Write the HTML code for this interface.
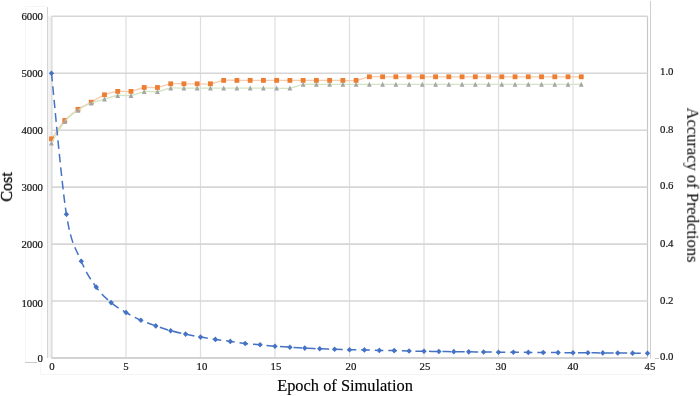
<!DOCTYPE html>
<html><head><meta charset="utf-8"><style>
html,body{margin:0;padding:0;background:#fff;}
body{width:700px;height:396px;overflow:hidden;font-family:"Liberation Serif",serif;}
svg{display:block;position:absolute;left:0;top:0;}
.t{position:absolute;line-height:1;white-space:nowrap;font-family:"Liberation Serif",serif;will-change:transform;}
.k{-webkit-text-stroke:0.2px currentColor;}
#w{position:absolute;left:0;top:0;width:700px;height:396px;background:#fff;filter:blur(0.35px);}
</style></head><body><div id="w">
<svg width="700" height="396" viewBox="0 0 700 396">
<rect width="700" height="396" fill="#fff"/>
<g stroke="#f5f5f5" stroke-width="1" fill="none">
<path d="M25.5,6.5 H47"/>
<path d="M25.5,6.5 V362"/>
<path d="M41.5,20 V362"/>
<path d="M40.5,362 V374.5 H654.5 V359"/>
</g>
<rect x="48" y="16.3" width="2.5" height="341.4" fill="#f3f3f3"/>
<rect x="50.5" y="16.3" width="2.5" height="341.4" fill="#ebebeb"/>
<line x1="51.50" y1="16.30" x2="51.50" y2="358.00" stroke="#dedede" stroke-width="1.2"/>
<line x1="126.00" y1="16.30" x2="126.00" y2="358.00" stroke="#dedede" stroke-width="1.2"/>
<line x1="200.50" y1="16.30" x2="200.50" y2="358.00" stroke="#dedede" stroke-width="1.2"/>
<line x1="275.00" y1="16.30" x2="275.00" y2="358.00" stroke="#dedede" stroke-width="1.2"/>
<line x1="349.50" y1="16.30" x2="349.50" y2="358.00" stroke="#dedede" stroke-width="1.2"/>
<line x1="424.00" y1="16.30" x2="424.00" y2="358.00" stroke="#dedede" stroke-width="1.2"/>
<line x1="498.50" y1="16.30" x2="498.50" y2="358.00" stroke="#dedede" stroke-width="1.2"/>
<line x1="573.00" y1="16.30" x2="573.00" y2="358.00" stroke="#dedede" stroke-width="1.2"/>
<line x1="647.50" y1="16.30" x2="647.50" y2="358.00" stroke="#c8c8c8" stroke-width="1.2"/>
<line x1="51.50" y1="16.30" x2="647.50" y2="16.30" stroke="#d6d6d6" stroke-width="1.6"/>
<line x1="51.50" y1="73.25" x2="647.50" y2="73.25" stroke="#d6d6d6" stroke-width="1.6"/>
<line x1="51.50" y1="130.20" x2="647.50" y2="130.20" stroke="#d6d6d6" stroke-width="1.6"/>
<line x1="51.50" y1="187.15" x2="647.50" y2="187.15" stroke="#d6d6d6" stroke-width="1.6"/>
<line x1="51.50" y1="244.10" x2="647.50" y2="244.10" stroke="#d6d6d6" stroke-width="1.6"/>
<line x1="51.50" y1="301.05" x2="647.50" y2="301.05" stroke="#d6d6d6" stroke-width="1.6"/>
<line x1="51.50" y1="358.00" x2="647.50" y2="358.00" stroke="#d6d6d6" stroke-width="1.6"/>
<line x1="47.5" y1="7" x2="47.5" y2="358" stroke="#d4d4d4" stroke-width="1"/>
<line x1="650.5" y1="1" x2="650.5" y2="358.5" stroke="#cfcfcf" stroke-width="1"/>
<line x1="25" y1="362.5" x2="37" y2="362.5" stroke="#c8c8c8" stroke-width="1"/>
<line x1="655" y1="358.5" x2="659" y2="358.5" stroke="#c8c8c8" stroke-width="1"/>
<line x1="51.50" y1="358.00" x2="647.50" y2="358.00" stroke="#cfcfcf" stroke-width="1.6"/>
<path d="M51.50,138.80 C53.71,135.75 60.33,125.42 64.74,120.50 C69.16,115.58 73.57,112.35 77.99,109.30 C82.40,106.25 86.82,104.62 91.23,102.20 C95.65,99.78 100.06,96.60 104.48,94.80 C108.89,93.00 113.31,91.97 117.72,91.40 C122.14,90.83 126.55,92.05 130.97,91.40 C135.38,90.75 139.80,88.15 144.21,87.50 C148.63,86.85 153.04,88.12 157.46,87.50 C161.87,86.88 166.29,84.42 170.70,83.80 C175.11,83.18 179.53,83.80 183.94,83.80 C188.36,83.80 192.77,83.80 197.19,83.80 C201.60,83.80 206.02,84.37 210.43,83.80 C214.85,83.23 219.26,80.97 223.68,80.40 C228.09,79.83 232.51,80.40 236.92,80.40 C241.34,80.40 245.75,80.40 250.17,80.40 C254.58,80.40 259.00,80.40 263.41,80.40 C267.83,80.40 272.24,80.40 276.66,80.40 C281.07,80.40 285.49,80.40 289.90,80.40 C294.31,80.40 298.73,80.40 303.14,80.40 C307.56,80.40 311.97,80.40 316.39,80.40 C320.80,80.40 325.22,80.40 329.63,80.40 C334.05,80.40 338.46,80.40 342.88,80.40 C347.29,80.40 351.71,81.00 356.12,80.40 C360.54,79.80 364.95,77.40 369.37,76.80 C373.78,76.20 378.20,76.80 382.61,76.80 C387.03,76.80 391.44,76.80 395.86,76.80 C400.27,76.80 404.69,76.80 409.10,76.80 C413.51,76.80 417.93,76.80 422.34,76.80 C426.76,76.80 431.17,76.80 435.59,76.80 C440.00,76.80 444.42,76.80 448.83,76.80 C453.25,76.80 457.66,76.80 462.08,76.80 C466.49,76.80 470.91,76.80 475.32,76.80 C479.74,76.80 484.15,76.80 488.57,76.80 C492.98,76.80 497.40,76.80 501.81,76.80 C506.23,76.80 510.64,76.80 515.06,76.80 C519.47,76.80 523.89,76.80 528.30,76.80 C532.71,76.80 537.13,76.80 541.54,76.80 C545.96,76.80 550.37,76.80 554.79,76.80 C559.20,76.80 563.62,76.80 568.03,76.80 C572.45,76.80 579.07,76.80 581.28,76.80" fill="none" stroke="#f8cbad" stroke-width="1.3"/>
<rect x="49.10" y="136.40" width="4.8" height="4.8" fill="#ed7d31"/>
<rect x="62.34" y="118.10" width="4.8" height="4.8" fill="#ed7d31"/>
<rect x="75.59" y="106.90" width="4.8" height="4.8" fill="#ed7d31"/>
<rect x="88.83" y="99.80" width="4.8" height="4.8" fill="#ed7d31"/>
<rect x="102.08" y="92.40" width="4.8" height="4.8" fill="#ed7d31"/>
<rect x="115.32" y="89.00" width="4.8" height="4.8" fill="#ed7d31"/>
<rect x="128.57" y="89.00" width="4.8" height="4.8" fill="#ed7d31"/>
<rect x="141.81" y="85.10" width="4.8" height="4.8" fill="#ed7d31"/>
<rect x="155.06" y="85.10" width="4.8" height="4.8" fill="#ed7d31"/>
<rect x="168.30" y="81.40" width="4.8" height="4.8" fill="#ed7d31"/>
<rect x="181.54" y="81.40" width="4.8" height="4.8" fill="#ed7d31"/>
<rect x="194.79" y="81.40" width="4.8" height="4.8" fill="#ed7d31"/>
<rect x="208.03" y="81.40" width="4.8" height="4.8" fill="#ed7d31"/>
<rect x="221.28" y="78.00" width="4.8" height="4.8" fill="#ed7d31"/>
<rect x="234.52" y="78.00" width="4.8" height="4.8" fill="#ed7d31"/>
<rect x="247.77" y="78.00" width="4.8" height="4.8" fill="#ed7d31"/>
<rect x="261.01" y="78.00" width="4.8" height="4.8" fill="#ed7d31"/>
<rect x="274.26" y="78.00" width="4.8" height="4.8" fill="#ed7d31"/>
<rect x="287.50" y="78.00" width="4.8" height="4.8" fill="#ed7d31"/>
<rect x="300.74" y="78.00" width="4.8" height="4.8" fill="#ed7d31"/>
<rect x="313.99" y="78.00" width="4.8" height="4.8" fill="#ed7d31"/>
<rect x="327.23" y="78.00" width="4.8" height="4.8" fill="#ed7d31"/>
<rect x="340.48" y="78.00" width="4.8" height="4.8" fill="#ed7d31"/>
<rect x="353.72" y="78.00" width="4.8" height="4.8" fill="#ed7d31"/>
<rect x="366.97" y="74.40" width="4.8" height="4.8" fill="#ed7d31"/>
<rect x="380.21" y="74.40" width="4.8" height="4.8" fill="#ed7d31"/>
<rect x="393.46" y="74.40" width="4.8" height="4.8" fill="#ed7d31"/>
<rect x="406.70" y="74.40" width="4.8" height="4.8" fill="#ed7d31"/>
<rect x="419.94" y="74.40" width="4.8" height="4.8" fill="#ed7d31"/>
<rect x="433.19" y="74.40" width="4.8" height="4.8" fill="#ed7d31"/>
<rect x="446.43" y="74.40" width="4.8" height="4.8" fill="#ed7d31"/>
<rect x="459.68" y="74.40" width="4.8" height="4.8" fill="#ed7d31"/>
<rect x="472.92" y="74.40" width="4.8" height="4.8" fill="#ed7d31"/>
<rect x="486.17" y="74.40" width="4.8" height="4.8" fill="#ed7d31"/>
<rect x="499.41" y="74.40" width="4.8" height="4.8" fill="#ed7d31"/>
<rect x="512.66" y="74.40" width="4.8" height="4.8" fill="#ed7d31"/>
<rect x="525.90" y="74.40" width="4.8" height="4.8" fill="#ed7d31"/>
<rect x="539.14" y="74.40" width="4.8" height="4.8" fill="#ed7d31"/>
<rect x="552.39" y="74.40" width="4.8" height="4.8" fill="#ed7d31"/>
<rect x="565.63" y="74.40" width="4.8" height="4.8" fill="#ed7d31"/>
<rect x="578.88" y="74.40" width="4.8" height="4.8" fill="#ed7d31"/>
<path d="M51.50,143.00 C53.71,139.42 60.33,126.95 64.74,121.50 C69.16,116.05 73.57,113.38 77.99,110.30 C82.40,107.22 86.82,104.85 91.23,103.00 C95.65,101.15 100.06,100.45 104.48,99.20 C108.89,97.95 113.31,96.12 117.72,95.50 C122.14,94.88 126.55,96.15 130.97,95.50 C135.38,94.85 139.80,92.25 144.21,91.60 C148.63,90.95 153.04,92.17 157.46,91.60 C161.87,91.03 166.29,88.77 170.70,88.20 C175.11,87.63 179.53,88.20 183.94,88.20 C188.36,88.20 192.77,88.20 197.19,88.20 C201.60,88.20 206.02,88.20 210.43,88.20 C214.85,88.20 219.26,88.20 223.68,88.20 C228.09,88.20 232.51,88.20 236.92,88.20 C241.34,88.20 245.75,88.20 250.17,88.20 C254.58,88.20 259.00,88.20 263.41,88.20 C267.83,88.20 272.24,88.20 276.66,88.20 C281.07,88.20 285.49,88.83 289.90,88.20 C294.31,87.57 298.73,85.03 303.14,84.40 C307.56,83.77 311.97,84.40 316.39,84.40 C320.80,84.40 325.22,84.40 329.63,84.40 C334.05,84.40 338.46,84.40 342.88,84.40 C347.29,84.40 351.71,84.40 356.12,84.40 C360.54,84.40 364.95,84.40 369.37,84.40 C373.78,84.40 378.20,84.40 382.61,84.40 C387.03,84.40 391.44,84.40 395.86,84.40 C400.27,84.40 404.69,84.40 409.10,84.40 C413.51,84.40 417.93,84.40 422.34,84.40 C426.76,84.40 431.17,84.40 435.59,84.40 C440.00,84.40 444.42,84.40 448.83,84.40 C453.25,84.40 457.66,84.40 462.08,84.40 C466.49,84.40 470.91,84.40 475.32,84.40 C479.74,84.40 484.15,84.40 488.57,84.40 C492.98,84.40 497.40,84.40 501.81,84.40 C506.23,84.40 510.64,84.40 515.06,84.40 C519.47,84.40 523.89,84.40 528.30,84.40 C532.71,84.40 537.13,84.40 541.54,84.40 C545.96,84.40 550.37,84.40 554.79,84.40 C559.20,84.40 563.62,84.40 568.03,84.40 C572.45,84.40 579.07,84.40 581.28,84.40" fill="none" stroke="#d0e5c2" stroke-width="1.3"/>
<path d="M51.50,140.40 L53.90,145.40 L49.10,145.40 Z" fill="#a5a5a5"/>
<path d="M64.74,118.90 L67.14,123.90 L62.34,123.90 Z" fill="#a5a5a5"/>
<path d="M77.99,107.70 L80.39,112.70 L75.59,112.70 Z" fill="#a5a5a5"/>
<path d="M91.23,100.40 L93.63,105.40 L88.83,105.40 Z" fill="#a5a5a5"/>
<path d="M104.48,96.60 L106.88,101.60 L102.08,101.60 Z" fill="#a5a5a5"/>
<path d="M117.72,92.90 L120.12,97.90 L115.32,97.90 Z" fill="#a5a5a5"/>
<path d="M130.97,92.90 L133.37,97.90 L128.57,97.90 Z" fill="#a5a5a5"/>
<path d="M144.21,89.00 L146.61,94.00 L141.81,94.00 Z" fill="#a5a5a5"/>
<path d="M157.46,89.00 L159.86,94.00 L155.06,94.00 Z" fill="#a5a5a5"/>
<path d="M170.70,85.60 L173.10,90.60 L168.30,90.60 Z" fill="#a5a5a5"/>
<path d="M183.94,85.60 L186.34,90.60 L181.54,90.60 Z" fill="#a5a5a5"/>
<path d="M197.19,85.60 L199.59,90.60 L194.79,90.60 Z" fill="#a5a5a5"/>
<path d="M210.43,85.60 L212.83,90.60 L208.03,90.60 Z" fill="#a5a5a5"/>
<path d="M223.68,85.60 L226.08,90.60 L221.28,90.60 Z" fill="#a5a5a5"/>
<path d="M236.92,85.60 L239.32,90.60 L234.52,90.60 Z" fill="#a5a5a5"/>
<path d="M250.17,85.60 L252.57,90.60 L247.77,90.60 Z" fill="#a5a5a5"/>
<path d="M263.41,85.60 L265.81,90.60 L261.01,90.60 Z" fill="#a5a5a5"/>
<path d="M276.66,85.60 L279.06,90.60 L274.26,90.60 Z" fill="#a5a5a5"/>
<path d="M289.90,85.60 L292.30,90.60 L287.50,90.60 Z" fill="#a5a5a5"/>
<path d="M303.14,81.80 L305.54,86.80 L300.74,86.80 Z" fill="#a5a5a5"/>
<path d="M316.39,81.80 L318.79,86.80 L313.99,86.80 Z" fill="#a5a5a5"/>
<path d="M329.63,81.80 L332.03,86.80 L327.23,86.80 Z" fill="#a5a5a5"/>
<path d="M342.88,81.80 L345.28,86.80 L340.48,86.80 Z" fill="#a5a5a5"/>
<path d="M356.12,81.80 L358.52,86.80 L353.72,86.80 Z" fill="#a5a5a5"/>
<path d="M369.37,81.80 L371.77,86.80 L366.97,86.80 Z" fill="#a5a5a5"/>
<path d="M382.61,81.80 L385.01,86.80 L380.21,86.80 Z" fill="#a5a5a5"/>
<path d="M395.86,81.80 L398.26,86.80 L393.46,86.80 Z" fill="#a5a5a5"/>
<path d="M409.10,81.80 L411.50,86.80 L406.70,86.80 Z" fill="#a5a5a5"/>
<path d="M422.34,81.80 L424.74,86.80 L419.94,86.80 Z" fill="#a5a5a5"/>
<path d="M435.59,81.80 L437.99,86.80 L433.19,86.80 Z" fill="#a5a5a5"/>
<path d="M448.83,81.80 L451.23,86.80 L446.43,86.80 Z" fill="#a5a5a5"/>
<path d="M462.08,81.80 L464.48,86.80 L459.68,86.80 Z" fill="#a5a5a5"/>
<path d="M475.32,81.80 L477.72,86.80 L472.92,86.80 Z" fill="#a5a5a5"/>
<path d="M488.57,81.80 L490.97,86.80 L486.17,86.80 Z" fill="#a5a5a5"/>
<path d="M501.81,81.80 L504.21,86.80 L499.41,86.80 Z" fill="#a5a5a5"/>
<path d="M515.06,81.80 L517.46,86.80 L512.66,86.80 Z" fill="#a5a5a5"/>
<path d="M528.30,81.80 L530.70,86.80 L525.90,86.80 Z" fill="#a5a5a5"/>
<path d="M541.54,81.80 L543.94,86.80 L539.14,86.80 Z" fill="#a5a5a5"/>
<path d="M554.79,81.80 L557.19,86.80 L552.39,86.80 Z" fill="#a5a5a5"/>
<path d="M568.03,81.80 L570.43,86.80 L565.63,86.80 Z" fill="#a5a5a5"/>
<path d="M581.28,81.80 L583.68,86.80 L578.88,86.80 Z" fill="#a5a5a5"/>
<path d="M51.50,73.20 C53.98,96.72 61.43,182.97 66.40,214.30 C71.37,245.63 76.33,249.07 81.30,261.20 C86.27,273.33 91.23,280.20 96.20,287.10 C101.17,294.00 106.13,298.37 111.10,302.60 C116.07,306.83 121.03,309.57 126.00,312.50 C130.97,315.43 135.93,317.97 140.90,320.20 C145.87,322.43 150.83,324.15 155.80,325.90 C160.77,327.65 165.73,329.33 170.70,330.70 C175.67,332.07 180.63,333.03 185.60,334.10 C190.57,335.17 195.53,336.22 200.50,337.10 C205.47,337.98 210.43,338.68 215.40,339.40 C220.37,340.12 225.33,340.72 230.30,341.40 C235.27,342.08 240.23,342.93 245.20,343.50 C250.17,344.07 255.13,344.35 260.10,344.80 C265.07,345.25 270.03,345.80 275.00,346.20 C279.97,346.60 284.93,346.88 289.90,347.20 C294.87,347.52 299.83,347.83 304.80,348.10 C309.77,348.37 314.73,348.60 319.70,348.80 C324.67,349.00 329.63,349.15 334.60,349.30 C339.57,349.45 344.53,349.60 349.50,349.70 C354.47,349.80 359.43,349.78 364.40,349.90 C369.37,350.02 374.33,350.28 379.30,350.40 C384.27,350.52 389.23,350.50 394.20,350.60 C399.17,350.70 404.13,350.88 409.10,351.00 C414.07,351.12 419.03,351.22 424.00,351.30 C428.97,351.38 433.93,351.42 438.90,351.48 C443.87,351.54 448.83,351.60 453.80,351.66 C458.77,351.72 463.73,351.78 468.70,351.84 C473.67,351.90 478.63,351.96 483.60,352.02 C488.57,352.08 493.53,352.15 498.50,352.20 C503.47,352.25 508.43,352.27 513.40,352.30 C518.37,352.33 523.33,352.37 528.30,352.40 C533.27,352.43 538.23,352.47 543.20,352.50 C548.17,352.53 553.13,352.57 558.10,352.60 C563.07,352.63 568.03,352.66 573.00,352.70 C577.97,352.74 582.93,352.77 587.90,352.81 C592.87,352.85 597.83,352.88 602.80,352.92 C607.77,352.96 612.73,352.99 617.70,353.03 C622.67,353.07 627.63,353.10 632.60,353.14 C637.57,353.18 645.02,353.23 647.50,353.25" fill="none" stroke="#4472c4" stroke-width="1.5" stroke-dasharray="8.6 4.95" stroke-dashoffset="0.3"/>
<path d="M51.50,70.40 L54.20,73.20 L51.50,76.00 L48.80,73.20 Z" fill="#4472c4"/>
<path d="M66.40,211.50 L69.10,214.30 L66.40,217.10 L63.70,214.30 Z" fill="#4472c4"/>
<path d="M81.30,258.40 L84.00,261.20 L81.30,264.00 L78.60,261.20 Z" fill="#4472c4"/>
<path d="M96.20,284.30 L98.90,287.10 L96.20,289.90 L93.50,287.10 Z" fill="#4472c4"/>
<path d="M111.10,299.80 L113.80,302.60 L111.10,305.40 L108.40,302.60 Z" fill="#4472c4"/>
<path d="M126.00,309.70 L128.70,312.50 L126.00,315.30 L123.30,312.50 Z" fill="#4472c4"/>
<path d="M140.90,317.40 L143.60,320.20 L140.90,323.00 L138.20,320.20 Z" fill="#4472c4"/>
<path d="M155.80,323.10 L158.50,325.90 L155.80,328.70 L153.10,325.90 Z" fill="#4472c4"/>
<path d="M170.70,327.90 L173.40,330.70 L170.70,333.50 L168.00,330.70 Z" fill="#4472c4"/>
<path d="M185.60,331.30 L188.30,334.10 L185.60,336.90 L182.90,334.10 Z" fill="#4472c4"/>
<path d="M200.50,334.30 L203.20,337.10 L200.50,339.90 L197.80,337.10 Z" fill="#4472c4"/>
<path d="M215.40,336.60 L218.10,339.40 L215.40,342.20 L212.70,339.40 Z" fill="#4472c4"/>
<path d="M230.30,338.60 L233.00,341.40 L230.30,344.20 L227.60,341.40 Z" fill="#4472c4"/>
<path d="M245.20,340.70 L247.90,343.50 L245.20,346.30 L242.50,343.50 Z" fill="#4472c4"/>
<path d="M260.10,342.00 L262.80,344.80 L260.10,347.60 L257.40,344.80 Z" fill="#4472c4"/>
<path d="M275.00,343.40 L277.70,346.20 L275.00,349.00 L272.30,346.20 Z" fill="#4472c4"/>
<path d="M289.90,344.40 L292.60,347.20 L289.90,350.00 L287.20,347.20 Z" fill="#4472c4"/>
<path d="M304.80,345.30 L307.50,348.10 L304.80,350.90 L302.10,348.10 Z" fill="#4472c4"/>
<path d="M319.70,346.00 L322.40,348.80 L319.70,351.60 L317.00,348.80 Z" fill="#4472c4"/>
<path d="M334.60,346.50 L337.30,349.30 L334.60,352.10 L331.90,349.30 Z" fill="#4472c4"/>
<path d="M349.50,346.90 L352.20,349.70 L349.50,352.50 L346.80,349.70 Z" fill="#4472c4"/>
<path d="M364.40,347.10 L367.10,349.90 L364.40,352.70 L361.70,349.90 Z" fill="#4472c4"/>
<path d="M379.30,347.60 L382.00,350.40 L379.30,353.20 L376.60,350.40 Z" fill="#4472c4"/>
<path d="M394.20,347.80 L396.90,350.60 L394.20,353.40 L391.50,350.60 Z" fill="#4472c4"/>
<path d="M409.10,348.20 L411.80,351.00 L409.10,353.80 L406.40,351.00 Z" fill="#4472c4"/>
<path d="M424.00,348.50 L426.70,351.30 L424.00,354.10 L421.30,351.30 Z" fill="#4472c4"/>
<path d="M438.90,348.68 L441.60,351.48 L438.90,354.28 L436.20,351.48 Z" fill="#4472c4"/>
<path d="M453.80,348.86 L456.50,351.66 L453.80,354.46 L451.10,351.66 Z" fill="#4472c4"/>
<path d="M468.70,349.04 L471.40,351.84 L468.70,354.64 L466.00,351.84 Z" fill="#4472c4"/>
<path d="M483.60,349.22 L486.30,352.02 L483.60,354.82 L480.90,352.02 Z" fill="#4472c4"/>
<path d="M498.50,349.40 L501.20,352.20 L498.50,355.00 L495.80,352.20 Z" fill="#4472c4"/>
<path d="M513.40,349.50 L516.10,352.30 L513.40,355.10 L510.70,352.30 Z" fill="#4472c4"/>
<path d="M528.30,349.60 L531.00,352.40 L528.30,355.20 L525.60,352.40 Z" fill="#4472c4"/>
<path d="M543.20,349.70 L545.90,352.50 L543.20,355.30 L540.50,352.50 Z" fill="#4472c4"/>
<path d="M558.10,349.80 L560.80,352.60 L558.10,355.40 L555.40,352.60 Z" fill="#4472c4"/>
<path d="M573.00,349.90 L575.70,352.70 L573.00,355.50 L570.30,352.70 Z" fill="#4472c4"/>
<path d="M587.90,350.01 L590.60,352.81 L587.90,355.61 L585.20,352.81 Z" fill="#4472c4"/>
<path d="M602.80,350.12 L605.50,352.92 L602.80,355.72 L600.10,352.92 Z" fill="#4472c4"/>
<path d="M617.70,350.23 L620.40,353.03 L617.70,355.83 L615.00,353.03 Z" fill="#4472c4"/>
<path d="M632.60,350.34 L635.30,353.14 L632.60,355.94 L629.90,353.14 Z" fill="#4472c4"/>
<path d="M647.50,350.45 L650.20,353.25 L647.50,356.05 L644.80,353.25 Z" fill="#4472c4"/>
</svg>
<div class="t k" style="left:42.50px;top:10.74px;font-size:10.8px;color:#161616;transform:translateX(-100%);">6000</div>
<div class="t k" style="left:42.50px;top:68.49px;font-size:10.8px;color:#161616;transform:translateX(-100%);">5000</div>
<div class="t k" style="left:42.50px;top:124.89px;font-size:10.8px;color:#161616;transform:translateX(-100%);">4000</div>
<div class="t k" style="left:42.50px;top:182.19px;font-size:10.8px;color:#161616;transform:translateX(-100%);">3000</div>
<div class="t k" style="left:42.50px;top:238.79px;font-size:10.8px;color:#161616;transform:translateX(-100%);">2000</div>
<div class="t k" style="left:42.50px;top:298.09px;font-size:10.8px;color:#161616;transform:translateX(-100%);">1000</div>
<div class="t k" style="left:42.50px;top:353.39px;font-size:10.8px;color:#161616;transform:translateX(-100%);">0</div>
<div class="t k" style="left:659.80px;top:66.39px;font-size:10.8px;color:#161616;">1.0</div>
<div class="t k" style="left:659.80px;top:124.19px;font-size:10.8px;color:#161616;">0.8</div>
<div class="t k" style="left:659.80px;top:179.59px;font-size:10.8px;color:#161616;">0.6</div>
<div class="t k" style="left:659.80px;top:238.19px;font-size:10.8px;color:#161616;">0.4</div>
<div class="t k" style="left:659.80px;top:294.89px;font-size:10.8px;color:#161616;">0.2</div>
<div class="t k" style="left:659.80px;top:351.39px;font-size:10.8px;color:#161616;">0.0</div>
<div class="t k" style="left:52.05px;top:360.69px;font-size:10.8px;color:#161616;transform:translateX(-50%);">0</div>
<div class="t k" style="left:126.40px;top:360.69px;font-size:10.8px;color:#161616;transform:translateX(-50%);">5</div>
<div class="t k" style="left:201.70px;top:360.69px;font-size:10.8px;color:#161616;transform:translateX(-50%);">10</div>
<div class="t k" style="left:276.00px;top:360.69px;font-size:10.8px;color:#161616;transform:translateX(-50%);">15</div>
<div class="t k" style="left:350.70px;top:360.69px;font-size:10.8px;color:#161616;transform:translateX(-50%);">20</div>
<div class="t k" style="left:425.30px;top:360.69px;font-size:10.8px;color:#161616;transform:translateX(-50%);">25</div>
<div class="t k" style="left:500.60px;top:360.69px;font-size:10.8px;color:#161616;transform:translateX(-50%);">30</div>
<div class="t k" style="left:572.60px;top:360.69px;font-size:10.8px;color:#161616;transform:translateX(-50%);">40</div>
<div class="t k" style="left:649.80px;top:360.69px;font-size:10.8px;color:#161616;transform:translateX(-50%);">45</div>
<div class="t" style="left:344.90px;top:377.89px;font-size:16.4px;color:#000;transform:translateX(-50%);-webkit-text-stroke:0.15px #000;">Epoch of Simulation</div>
<div class="t" style="left:6.82px;top:187.00px;font-size:16.0px;color:#000;transform:translate(-50%,-50%) rotate(-90deg);-webkit-text-stroke:0.3px #000;">Cost</div>
<div class="t" style="left:692.05px;top:185.20px;font-size:16.5px;color:#000;transform:translate(-50%,-50%) rotate(90deg);">Accuracy of Predctions</div>
</div></body></html>
